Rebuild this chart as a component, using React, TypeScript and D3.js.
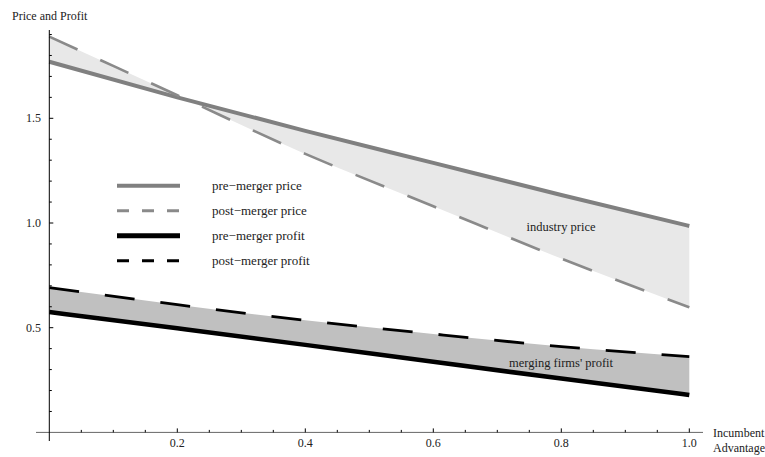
import React from 'react';
import * as d3 from 'd3';

// values, x = incumbent advantage
const xs = [0, 0.2, 0.4, 0.6, 0.8, 1.0];
const prePrice = [1.77, 1.60, 1.44, 1.287, 1.134, 0.986];
const postPrice = [1.89, 1.61, 1.33, 1.08, 0.83, 0.597];
const preProfit = [0.575, 0.497, 0.418, 0.337, 0.257, 0.179];
const postProfit = [0.691, 0.61, 0.535, 0.47, 0.41, 0.362];

const xMajor = [0.2, 0.4, 0.6, 0.8, 1.0];
const yMajor = [0.5, 1.0, 1.5];

const legendItems = [
  { label: 'pre\u2212merger price', color: '#808080', width: 4, dash: null },
  { label: 'post\u2212merger price', color: '#8a8a8a', width: 3, dash: '12 13' },
  { label: 'pre\u2212merger profit', color: '#000', width: 5, dash: null },
  { label: 'post\u2212merger profit', color: '#000', width: 3, dash: '12 13' },
];

const W = 765;
const H = 457;
const font = 'Liberation Serif, Times New Roman, serif';

export default function App() {
  const x = d3.scaleLinear().domain([0, 1]).range([49.3, 689.3]);
  const y = d3.scaleLinear().domain([0, 1]).range([432.4, 223]);

  const pts = (vals: number[]) => xs.map((v, i) => [v, vals[i]] as [number, number]);

  const line = d3.line<[number, number]>()
    .x((d) => x(d[0]))
    .y((d) => y(d[1]))
    .curve(d3.curveMonotoneX);

  const band = (lo: number[], hi: number[]) =>
    d3.area<number>()
      .x((d) => x(d))
      .y0((d, i) => y(lo[i]))
      .y1((d, i) => y(hi[i]))
      .curve(d3.curveMonotoneX)(xs);

  const xMinor = d3.range(1, 21).map((i) => i * 0.05).filter((v) => Math.abs(v * 5 - Math.round(v * 5)) > 1e-6);
  const yMinor = d3.range(1, 20).map((i) => i * 0.1).filter((v) => Math.abs(v * 2 - Math.round(v * 2)) > 1e-6);
  const fmt = d3.format('.1f');
  const ts = { fontFamily: font };

  return (
    <svg width={W} height={H} style={{ position: 'absolute', left: 0, top: 0, background: '#fff' }}>
      {/* shaded regions */}
      <path d={band(postPrice, prePrice) || ''} fill="#e8e8e8" />
      <path d={band(preProfit, postProfit) || ''} fill="#c0c0c0" />

      {/* curves */}
      <path d={line(pts(prePrice)) || ''} fill="none" stroke="#808080" strokeWidth={4} />
      <path d={line(pts(postPrice)) || ''} fill="none" stroke="#8a8a8a" strokeWidth={2.6} strokeDasharray="31 25" />
      <path d={line(pts(preProfit)) || ''} fill="none" stroke="#000" strokeWidth={4.5} />
      <path d={line(pts(postProfit)) || ''} fill="none" stroke="#000" strokeWidth={2.8} strokeDasharray="30 26" />

      {/* axes */}
      <line x1={36} x2={703} y1={y(0)} y2={y(0)} stroke="#666" strokeWidth={1} />
      <line x1={x(0)} x2={x(0)} y1={30} y2={441} stroke="#000" strokeWidth={1} />
      {xMinor.map((v) => (
        <line key={'xm' + v} x1={x(v)} x2={x(v)} y1={y(0)} y2={y(0) - 2.5} stroke="#000" />
      ))}
      {xMajor.map((v) => (
        <g key={'xM' + v}>
          <line x1={x(v)} x2={x(v)} y1={y(0)} y2={y(0) - 4} stroke="#000" />
          <text x={x(v)} y={447} fontSize={12} textAnchor="middle" fill="#222" style={ts}>{fmt(v)}</text>
        </g>
      ))}
      {yMinor.map((v) => (
        <line key={'ym' + v} x1={x(0)} x2={x(0) + 2.5} y1={y(v)} y2={y(v)} stroke="#000" />
      ))}
      {yMajor.map((v) => (
        <g key={'yM' + v}>
          <line x1={x(0)} x2={x(0) + 4} y1={y(v)} y2={y(v)} stroke="#000" />
          <text x={41} y={y(v) + 4} fontSize={12} textAnchor="end" fill="#222" style={ts}>{fmt(v)}</text>
        </g>
      ))}

      {/* axis labels */}
      <text x={12} y={20} fontSize={12} fill="#222" style={ts}>Price and Profit</text>
      <text x={713} y={437} fontSize={12} fill="#222" style={ts}>Incumbent</text>
      <text x={713} y={452} fontSize={12} fill="#222" style={ts}>Advantage</text>

      {/* region labels */}
      <text x={561} y={231} fontSize={12.5} textAnchor="middle" fill="#222" style={ts}>industry price</text>
      <text x={561} y={367} fontSize={12.5} textAnchor="middle" fill="#222" style={ts}>merging firms' profit</text>

      {/* legend */}
      {legendItems.map((d, i) => {
        const ly = 185.7 + i * 25;
        return (
          <g key={d.label}>
            <line x1={117} x2={180} y1={ly} y2={ly} stroke={d.color} strokeWidth={d.width}
              strokeDasharray={d.dash || undefined} />
            <text x={212} y={ly + 4} fontSize={13} fill="#222" style={ts}>{d.label}</text>
          </g>
        );
      })}
    </svg>
  );
}
